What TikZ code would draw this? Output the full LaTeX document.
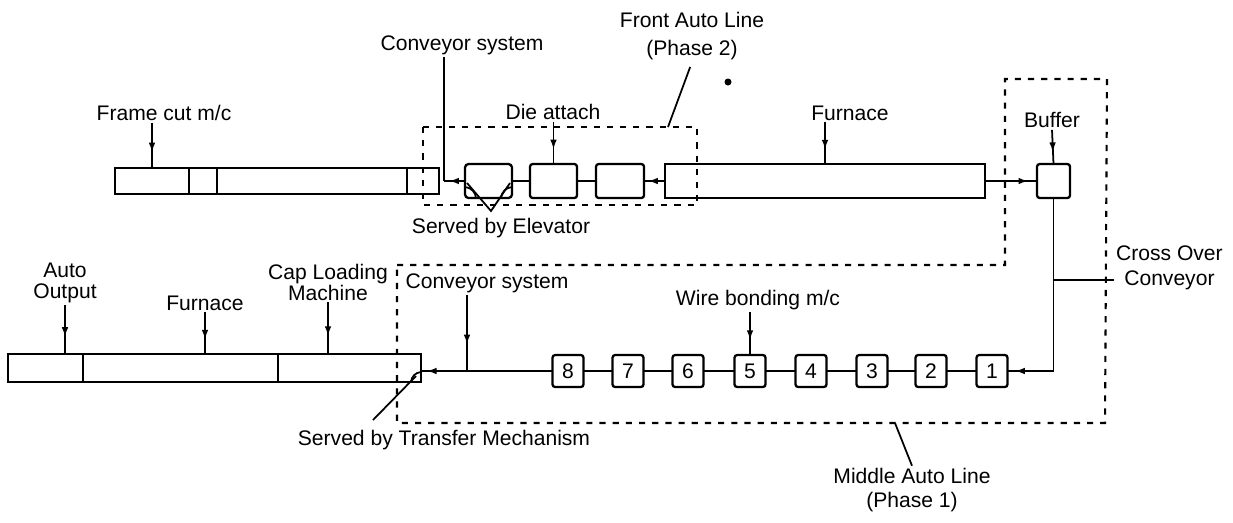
\documentclass[tikz,border=0pt]{standalone}
\usepackage{fontspec}
\setmainfont{Liberation Sans}
\usetikzlibrary{arrows.meta,positioning,decorations.markings}

\begin{document}
\begin{tikzpicture}[
  x=0.02cm, y=-0.02cm,
  unit/.style={draw, line width=1.3pt, inner sep=0pt, outer sep=0pt},
  wbox/.style={unit, rounded corners=1.5pt, minimum width=0.62cm, minimum height=0.64cm,
               font=\fontsize{12}{14}\selectfont},
  lbl/.style={align=center, inner sep=1pt, font=\fontsize{12}{14}\selectfont},
  belt/.style={line width=1pt},
  zone/.style={line width=1.2pt, dash pattern=on 3.5pt off 4pt},
  flowmark/.style={belt, postaction={decorate},
    decoration={markings, mark=at position #1 with {\arrow{Latex[length=5.5pt,width=3.8pt]}}}},
  feed/.style={flowmark=0.65}
]
\useasboundingbox (0,0) rectangle (1233,522);

% front auto line
\node[unit, minimum width=1.48cm, minimum height=0.52cm] (fc1) at (152,181) {};
\node[unit, minimum width=0.56cm, minimum height=0.52cm] (fc2) at (203,181) {};
\node[unit, minimum width=3.8cm, minimum height=0.52cm] (fc3) at (312,181) {};
\node[unit, minimum width=0.64cm, minimum height=0.52cm] (fc4) at (423,181) {};
\node[unit, rounded corners=2pt, minimum width=0.94cm, minimum height=0.68cm] (elev) at (488.5,181) {};
\node[unit, rounded corners=1.5pt, minimum width=0.94cm, minimum height=0.68cm] (die1) at (553.5,181) {};
\node[unit, rounded corners=1.5pt, minimum width=0.96cm, minimum height=0.68cm] (die2) at (620,181) {};
\node[unit, minimum width=6.4cm, minimum height=0.68cm] (furn1) at (825,181) {};
\node[unit, rounded corners=1.5pt, minimum width=0.66cm, minimum height=0.68cm] (buf) at (1053.5,181) {};

\node[lbl] (lframe) at (164,113) {Frame cut m/c};
\node[lbl] (lconvt) at (462,45) {Conveyor system};
\node[lbl] (ldie) at (553,112) {Die attach};
\node[lbl] (lfront) at (692,36) {Front Auto Line\\[2pt](Phase 2)};
\node[lbl] (lfurn1) at (850,113) {Furnace};
\node[lbl] (lbuf) at (1052,120) {Buffer};
\node[lbl] (lelev) at (501,228) {Served by Elevator};
\node[lbl, anchor=west] (lcross) at (1114,268) {Cross Over\\Conveyor};

% middle auto line
\node[wbox] (b8) at (568,371) {8};
\node[wbox] (b7) at (628,371) {7};
\node[wbox] (b6) at (688,371) {6};
\node[wbox] (b5) at (750,371) {5};
\node[wbox] (b4) at (811,371) {4};
\node[wbox] (b3) at (872,371) {3};
\node[wbox] (b2) at (931,371) {2};
\node[wbox] (b1) at (992,371) {1};

\node[unit, minimum width=1.5cm, minimum height=0.56cm] (outp) at (45.5,368) {};
\node[unit, minimum width=3.9cm, minimum height=0.56cm] (furn2) at (180.5,368) {};
\node[unit, minimum width=2.86cm, minimum height=0.56cm] (cap) at (349.5,368) {};

\node[lbl, font=\fontsize{12}{12}\selectfont] (lout) at (65,283) {Auto\\Output};
\node[lbl] (lfurn2) at (205,303) {Furnace};
\node[lbl, font=\fontsize{12}{12}\selectfont] (lcap) at (328,282) {Cap Loading\\Machine};
\node[lbl] (lconvb) at (487,283) {Conveyor system};
\node[lbl] (lwire) at (758,300) {Wire bonding m/c};
\node[lbl] (ltrans) at (444,440) {Served by Transfer Mechanism};
\node[lbl] (lmid) at (912,490) {Middle Auto Line\\(Phase 1)};

\coordinate (ctop) at (444,181);
\coordinate (cbot) at (467,371);
\coordinate (xover) at (1053,280);
\coordinate (ftip) at (668,127);
\coordinate (mtip) at (895,423);
\coordinate (tmA) at (373,420);
\coordinate (tmB) at (416,376);

% dashed line boundaries
\draw[zone] (423,127) rectangle (697,205);
\draw[zone] (397,265) -- (1005,265) -- (1005,79) -- (1107,79) -- (1105,423) -- (397,423) -- cycle;

% flow
\draw[belt] (lconvt.south -| ctop) -- (ctop);
\draw[flowmark=0.75] (elev.west) -- (ctop);
\draw[belt] (elev.east) -- (die1.west);
\draw[belt] (die1.east) -- (die2.west);
\draw[flowmark=0.8] (furn1.west) -- (die2.east);
\draw[flowmark=0.83] (furn1.east) -- (buf.west);
\draw[flowmark=0.965] (buf.south) |- (b1.east);
\draw[belt] (b1.west) -- (b2.east);
\draw[belt] (b2.west) -- (b3.east);
\draw[belt] (b3.west) -- (b4.east);
\draw[belt] (b4.west) -- (b5.east);
\draw[belt] (b5.west) -- (b6.east);
\draw[belt] (b6.west) -- (b7.east);
\draw[belt] (b7.west) -- (b8.east);
\draw[flowmark=0.955] (b8.west) -- (b8.west -| cap.east);

% leaders
\draw[feed] (lframe.south -| fc1.north) -- (fc1.north);
\draw[feed] (ldie.south -| die1.north) -- (die1.north);
\draw[feed] (lfurn1.south -| furn1.north) -- (furn1.north);
\draw[feed] (lbuf.south) -- (buf.north);
\draw[feed] (lwire.south -| b5.north) -- (b5.north);
\draw[feed] (lconvb.south -| cbot) -- (cbot);
\draw[feed] (lout.south) -- (lout.south |- outp.north);
\draw[feed] (lfurn2.south) -- (lfurn2.south |- furn2.north);
\draw[feed] (lcap.south) -- (lcap.south |- cap.north);
\draw[belt] (xover) -- (xover -| lcross.west);
\draw[belt, shorten <=3pt] (lfront.south) -- (ftip);
\draw[belt] (lmid.north) -- (mtip);
\draw[belt] (tmA) -- (tmB);

% elevator and transfer marks
\draw[belt] (467,183) -- (491,211) -- (510,183);
\draw[belt] (465,187) to[bend left=40] (476,198);
\draw[belt] (501,198) to[bend left=40] (512,187);
\draw[belt] (421,372) to[bend right=40] (411,382);
\fill (728,82) circle[radius=0.07cm];
\end{tikzpicture}
\end{document}
